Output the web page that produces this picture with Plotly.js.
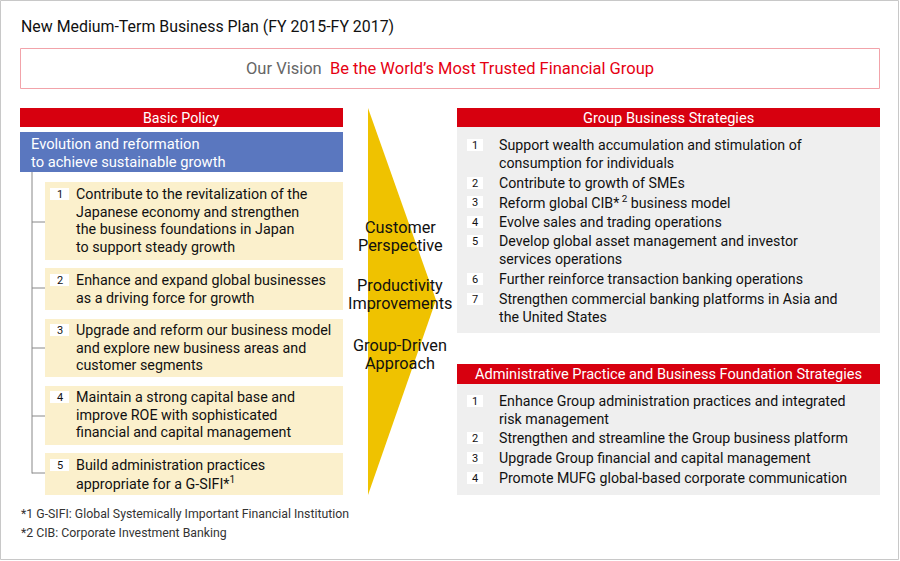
<!DOCTYPE html>
<html>
<head>
<meta charset="utf-8">
<script src="https://cdn.plot.ly/plotly-3.0.1.min.js"></script>
<style>html,body{margin:0;padding:0;background:#fff;}#chart{width:900px;height:561px;}</style>
</head>
<body>
<div id="chart"></div>
<script>
// ---- content ----
const chartTitle = "New Medium-Term Business Plan (FY 2015-FY 2017)";
const visionLabel = "Our Vision";
const visionText = "Be the World’s Most Trusted Financial Group";
const basicPolicyTitle = "Basic Policy";
const basicPolicyLines = ["Evolution and reformation", "to achieve sustainable growth"];
const policyNumbers = ["1", "2", "3", "4", "5"];
const policyItems = [
  ["Contribute to the revitalization of the", "Japanese economy and strengthen", "the business foundations in Japan", "to support steady growth"],
  ["Enhance and expand global businesses", "as a driving force for growth"],
  ["Upgrade and reform our business model", "and explore new business areas and", "customer segments"],
  ["Maintain a strong capital base and", "improve ROE with sophisticated", "financial and capital management"],
  ["Build administration practices", "appropriate for a G-SIFI*<sup>1</sup>"]
];
const perspectives = [["Customer", "Perspective"], ["Productivity", "Improvements"], ["Group-Driven", "Approach"]];
const groupTitle = "Group Business Strategies";
const groupNumbers = ["1", "2", "3", "4", "5", "6", "7"];
const groupItems = [
  ["Support wealth accumulation and stimulation of", "consumption for individuals"],
  ["Contribute to growth of SMEs"],
  ["Reform global CIB*<sup> 2</sup> business model"],
  ["Evolve sales and trading operations"],
  ["Develop global asset management and investor", "services operations"],
  ["Further reinforce transaction banking operations"],
  ["Strengthen commercial banking platforms in Asia and", "the United States"]
];
const adminTitle = "Administrative Practice and Business Foundation Strategies";
const adminNumbers = ["1", "2", "3", "4"];
const adminItems = [
  ["Enhance Group administration practices and integrated", "risk management"],
  ["Strengthen and streamline the Group business platform"],
  ["Upgrade Group financial and capital management"],
  ["Promote MUFG global-based corporate communication"]
];
const footnotes = ["*1 G-SIFI: Global Systemically Important Financial Institution", "*2 CIB: Corporate Investment Banking"];

// ---- layout geometry (pixel space) ----
const FONT = "Roboto, 'Liberation Sans', Arial, sans-serif";
const RED = "#d7000f", BLUE = "#5a77bf", CREAM = "#fbf0cc", GRAYBOX = "#efefef", GOLD = "#efc200";
const shapes = [], ann = [];
function rect(x0, y0, x1, y1, fill, line) {
  shapes.push({type: "rect", xref: "x", yref: "y", x0, y0, x1, y1, fillcolor: fill,
    line: line ? {color: line, width: 1} : {width: 0}, layer: "below"});
}
function seg(x0, y0, x1, y1, color) {
  shapes.push({type: "line", xref: "x", yref: "y", x0, y0, x1, y1, line: {color, width: 1}});
}
function text(x, y, t, size, color, xa) {
  ann.push({x, y, xref: "x", yref: "y", text: t, showarrow: false, xanchor: xa || "left",
    yanchor: "middle", align: xa === "center" ? "center" : "left",
    font: {family: FONT, size, color}});
}
function lines(x, y0, arr, step, size, color, xa) {
  arr.forEach((t, k) => text(x, y0 + k * step, t, size, color, xa));
}

// outer frame
rect(0.5, 0.5, 898.5, 559.5, "rgba(0,0,0,0)", "#c8c8c8");
// title
text(19, 26, chartTitle, 15.9, "#111");
// vision
rect(20.5, 48.5, 879.5, 88.5, "#fff", "#f2a3aa");
text(450, 68.5, '<span style="color:#666">' + visionLabel + '</span>  ' + visionText, 16.5, "#e60012", "center");

// basic policy
rect(20, 108, 343, 127, RED);
text(181.5, 117.5, basicPolicyTitle, 14.2, "#fff", "center");
rect(20, 132, 343, 172, BLUE);
lines(29, 144, basicPolicyLines, 17.5, 14.7, "#fff");
const policyBoxes = [[182, 260], [268, 310], [319, 377], [386, 445], [453, 495]];
const policyFirstY = [194, 280, 330, 397, 465];
const branchY = [222, 288, 348, 416, 473];
seg(32, 172, 32, 473.5, "#888");
policyBoxes.forEach((b, i) => {
  seg(32, branchY[i], 45, branchY[i], "#888");
  rect(45, b[0], 343, b[1], CREAM);
  const y0 = policyFirstY[i];
  rect(50, y0 - 6, 69, y0 + 6, "#fff");
  text(60, y0 + 0.5, policyNumbers[i], 11, "#111", "center");
  lines(74, y0, policyItems[i], 17.6, 14.3, "#111");
});

// arrow
shapes.push({type: "path", xref: "x", yref: "y", path: "M368,108 L436,300 L368,495 Z",
  fillcolor: GOLD, line: {width: 0}, layer: "below"});
const perspY = [227, 285, 345];
perspectives.forEach((p, i) => lines(400, perspY[i], p, 18, 16.3, "#111", "center"));

// group business strategies
rect(457, 108, 880, 127, RED);
text(668.5, 117.5, groupTitle, 14.6, "#fff", "center");
rect(457, 127, 880, 333, GRAYBOX);
const groupFirstY = [145, 183, 202, 222, 241, 279, 299];
groupItems.forEach((arr, i) => {
  const y0 = groupFirstY[i];
  rect(467, y0 - 6, 483, y0 + 6, "#fff");
  text(475, y0 + 0.5, groupNumbers[i], 11, "#111", "center");
  lines(497, y0, arr, 18, 14.2, "#111");
});

// admin strategies
rect(457, 364, 880, 384, RED);
text(668.5, 374, adminTitle, 14.6, "#fff", "center");
rect(457, 384, 880, 495, GRAYBOX);
const adminFirstY = [401, 438, 458, 478];
adminItems.forEach((arr, i) => {
  const y0 = adminFirstY[i];
  rect(467, y0 - 6, 483, y0 + 6, "#fff");
  text(475, y0 + 0.5, adminNumbers[i], 11, "#111", "center");
  lines(497, y0, arr, 17.5, 14.2, "#111");
});

// footnotes
const footY = [514, 533];
footnotes.forEach((f, i) => text(19, footY[i], f, 12.3, "#333"));

Plotly.newPlot("chart", [], {
  width: 900, height: 561, margin: {l: 0, r: 0, t: 0, b: 0},
  paper_bgcolor: "#fff", plot_bgcolor: "#fff", showlegend: false,
  xaxis: {range: [0, 900], visible: false, fixedrange: true},
  yaxis: {range: [561, 0], visible: false, fixedrange: true},
  shapes, annotations: ann
}, {displayModeBar: false, staticPlot: true});
</script>
</body>
</html>
